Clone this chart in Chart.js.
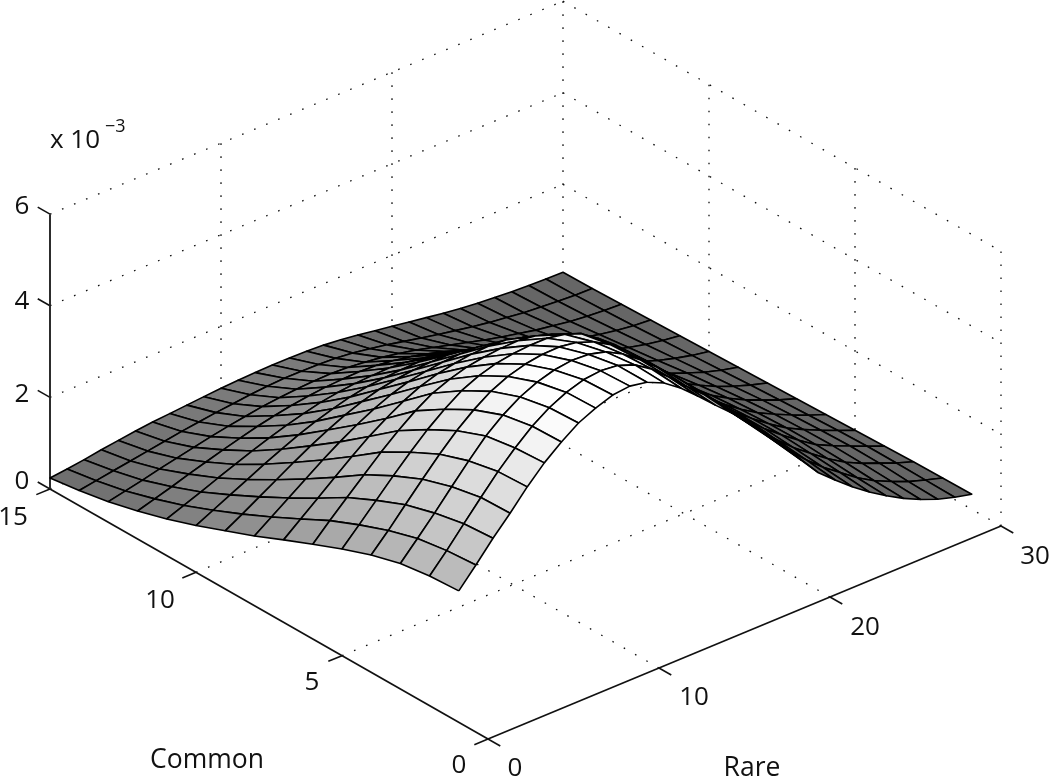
<!DOCTYPE html>
<html>
<head>
<meta charset="utf-8">
<style>html,body{margin:0;padding:0;background:#fff}canvas{display:block}</style>
<script src="https://cdn.jsdelivr.net/npm/chart.js@4"></script>
</head>
<body>
<canvas id="c" width="1050" height="778"></canvas>
<script>
const rareValues = [0,1,2,3,4,5,6,7,8,9,10,11,12,13,14,15,16,17,18,19,20,21,22,23,24,25,26,27,28,29,30];
const commonValues = [1,2,3,4,5,6,7,8,9,10,11,12,13,14,15];
const common1 = [2.87,3.28,3.71,4.10,4.52,4.89,5.19,5.45,5.62,5.75,5.79,5.72,5.55,5.28,4.95,4.60,4.27,3.90,3.53,3.09,2.63,2.20,1.88,1.58,1.31,1.07,.86,.68,.53,.42,.33];
const common2 = [2.83,3.23,3.66,4.08,4.49,4.85,5.17,5.42,5.60,5.72,5.76,5.72,5.58,5.33,5.00,4.65,4.32,3.95,3.58,3.15,2.72,2.32,1.96,1.64,1.37,1.10,.88,.71,.55,.43,.32];
const common3 = [2.74,3.13,3.53,3.95,4.36,4.75,5.05,5.29,5.46,5.57,5.62,5.60,5.50,5.30,5.02,4.70,4.35,3.98,3.60,3.20,2.78,2.40,2.03,1.70,1.42,1.15,.92,.74,.59,.44,.31];
const common4 = [2.56,2.94,3.35,3.75,4.14,4.50,4.80,5.05,5.22,5.33,5.39,5.40,5.34,5.20,4.98,4.68,4.34,3.97,3.60,3.22,2.82,2.44,2.08,1.75,1.46,1.19,.94,.76,.60,.44,.29];
const common5 = [2.33,2.70,3.08,3.46,3.82,4.16,4.45,4.70,4.87,4.98,5.04,5.07,5.07,5.00,4.86,4.60,4.30,3.95,3.58,3.20,2.82,2.44,2.08,1.75,1.45,1.18,.94,.75,.58,.42,.27];
const common6 = [2.07,2.43,2.78,3.12,3.46,3.77,4.05,4.28,4.43,4.54,4.60,4.64,4.65,4.60,4.48,4.30,4.06,3.77,3.44,3.08,2.72,2.36,2.02,1.70,1.41,1.14,.91,.72,.55,.39,.25];
const common7 = [1.80,2.10,2.40,2.70,3.00,3.28,3.52,3.74,3.91,4.03,4.10,4.15,4.17,4.15,4.05,3.90,3.72,3.48,3.20,2.88,2.55,2.22,1.90,1.60,1.33,1.08,.86,.67,.51,.36,.23];
const common8 = [1.52,1.78,2.04,2.30,2.56,2.80,3.02,3.21,3.37,3.49,3.56,3.61,3.63,3.62,3.55,3.42,3.27,3.07,2.84,2.58,2.30,2.00,1.72,1.45,1.20,.98,.78,.60,.45,.32,.21];
const common9 = [1.27,1.48,1.70,1.92,2.14,2.35,2.54,2.71,2.85,2.96,3.03,3.07,3.09,3.09,3.04,2.94,2.81,2.65,2.46,2.24,2.00,1.75,1.50,1.27,1.06,.86,.68,.53,.39,.28,.19];
const common10 = [1.02,1.20,1.38,1.56,1.74,1.91,2.07,2.21,2.33,2.43,2.50,2.54,2.56,2.57,2.53,2.45,2.35,2.22,2.06,1.88,1.68,1.48,1.27,1.07,.89,.72,.57,.44,.33,.24,.17];
const common11 = [.80,.94,1.08,1.23,1.37,1.51,1.64,1.76,1.86,1.95,2.01,2.05,2.07,2.08,2.05,1.99,1.91,1.80,1.67,1.52,1.36,1.19,1.02,.86,.71,.58,.46,.36,.27,.20,.15];
const common12 = [.61,.72,.83,.95,1.06,1.17,1.27,1.37,1.45,1.52,1.57,1.61,1.63,1.64,1.62,1.57,1.50,1.41,1.30,1.18,1.05,.92,.79,.66,.55,.45,.36,.28,.21,.16,.13];
const common13 = [.45,.53,.61,.70,.78,.86,.94,1.01,1.07,1.13,1.17,1.20,1.22,1.23,1.21,1.17,1.12,1.05,.97,.87,.77,.67,.57,.48,.40,.32,.26,.20,.16,.13,.11];
const common14 = [.33,.39,.45,.51,.57,.63,.69,.74,.79,.83,.87,.90,.92,.92,.91,.89,.85,.79,.72,.64,.56,.48,.41,.34,.28,.23,.18,.15,.12,.10,.09];
const common15 = [.24,.28,.33,.39,.44,.49,.53,.56,.59,.62,.65,.67,.68,.69,.69,.68,.66,.62,.57,.51,.45,.39,.33,.27,.22,.18,.15,.12,.10,.09,.08];
const surface = [common1,common2,common3,common4,common5,common6,common7,common8,common9,common10,common11,common12,common13,common14,common15];
const rareTicks = [0,10,20,30];
const commonTicks = [0,5,10,15];
const zTicks = [0,2,4,6];

// orthographic view of the (rare, common, z) box onto the plot's x/y scales
function proj(r, c, z) {
  return { x: 488 + 17.1 * r - 29.2 * c, y: 739 - 7.1 * r - 16.67 * c - 45.8 * z };
}
function cellGray(rMid, zMid) {
  const fade = rMid <= 13 ? 1 : rMid >= 20 ? 0 : (20 - rMid) / 7;
  const g = Math.min(255, Math.round(102 + 28 * zMid * fade));
  return 'rgb(' + g + ',' + g + ',' + g + ')';
}
const datasets = [];
// Chart.js paints lower indices last: nearest cells go first
for (let i = 0; i < commonValues.length - 1; i++) {
  for (let j = 0; j < rareValues.length - 1; j++) {
    const c0 = commonValues[i], c1 = commonValues[i + 1], r0 = rareValues[j], r1 = rareValues[j + 1];
    const z00 = surface[i][j], z01 = surface[i][j + 1], z10 = surface[i + 1][j], z11 = surface[i + 1][j + 1];
    const pts = [proj(r0, c0, z00), proj(r1, c0, z01), proj(r1, c1, z11), proj(r0, c1, z10), proj(r0, c0, z00)];
    datasets.push({
      data: pts, showLine: true, fill: 'shape', tension: 0,
      backgroundColor: cellGray((r0 + r1) / 2, (z00 + z01 + z10 + z11) / 4),
      borderColor: '#000', borderWidth: 1.6, pointRadius: 0, clip: false,
      borderJoinStyle: 'round'
    });
  }
}
function seg(a, b, color, w, dash) {
  datasets.push({ data: [a, b], showLine: true, fill: false, borderColor: color, borderWidth: w,
    borderDash: dash || [], pointRadius: 0, clip: false, borderCapStyle: 'butt' });
}
const dot = [1.6, 11.4], dotColor = '#111';
// solid axes and ticks
const rMax = rareTicks[rareTicks.length - 1], cMax = commonTicks[commonTicks.length - 1], zMax = zTicks[zTicks.length - 1];
seg(proj(0, cMax, 0), proj(0, cMax, zMax), '#222', 1.9);
seg(proj(0, 0, 0), proj(0, cMax, 0), '#111', 1.7);
seg(proj(0, 0, 0), proj(rMax, 0, 0), '#111', 1.7);
zTicks.forEach(z => seg(proj(0, cMax, z), proj(0, cMax + 0.42, z), '#111', 1.6));
commonTicks.forEach(c => seg(proj(0, c, 0), proj(-0.8, c, 0), '#111', 1.6));
rareTicks.forEach(r => seg(proj(r, 0, 0), proj(r, -0.42, 0), '#111', 1.6));
// dotted box grid
rareTicks.forEach(r => {
  if (r > 0) seg(proj(r, 0, 0), proj(r, cMax, 0), dotColor, 1.3, dot);
  if (r > 0) seg(proj(r, cMax, 0), proj(r, cMax, zMax), dotColor, 1.3, dot);
});
commonTicks.forEach(c => {
  if (c > 0) seg(proj(0, c, 0), proj(rMax, c, 0), dotColor, 1.3, dot);
  if (c < cMax) seg(proj(rMax, c, 0), proj(rMax, c, zMax), dotColor, 1.3, dot);
});
zTicks.forEach(z => {
  if (z > 0) {
    seg(proj(0, cMax, z), proj(rMax, cMax, z), dotColor, 1.3, dot);
    seg(proj(rMax, cMax, z), proj(rMax, 0, z), dotColor, 1.3, dot);
  }
});
const labelPlugin = {
  id: 'labels',
  afterDraw(chart) {
    const ctx = chart.ctx;
    ctx.save();
    ctx.fillStyle = '#111';
    ctx.textAlign = 'center';
    ctx.textBaseline = 'middle';
    ctx.font = '26px "Open Sans"';
    zTicks.forEach((z, i) => ctx.fillText(String(z), 22, [482, 395, 302, 207][i]));
    commonTicks.forEach((c, i) => ctx.fillText(String(c), [459, 312, 160, 13][i], [766, 683, 601, 518][i]));
    rareTicks.forEach((r, i) => ctx.fillText(String(r), [515, 694, 865, 1035][i], [769, 698, 628, 557][i]));
    ctx.font = '26.5px "Open Sans"';
    ctx.fillText('Common', 207, 760);
    ctx.fillText('Rare', 752, 768);
    ctx.textAlign = 'left';
    ctx.textBaseline = 'alphabetic';
    ctx.font = '26px "Open Sans"';
    ctx.fillText('x 10', 50, 148);
    ctx.font = '18px "Open Sans"';
    ctx.fillText('\u22123', 105, 132);
    ctx.restore();
  }
};
new Chart(document.getElementById('c'), {
  type: 'scatter',
  data: { datasets },
  options: {
    responsive: false, animation: false,
    layout: { padding: 0 },
    plugins: { legend: { display: false }, tooltip: { enabled: false } },
    scales: {
      x: { type: 'linear', min: 0, max: 1050, display: false },
      y: { type: 'linear', min: 0, max: 778, reverse: true, display: false }
    }
  },
  plugins: [labelPlugin]
});
</script>
</body>
</html>
